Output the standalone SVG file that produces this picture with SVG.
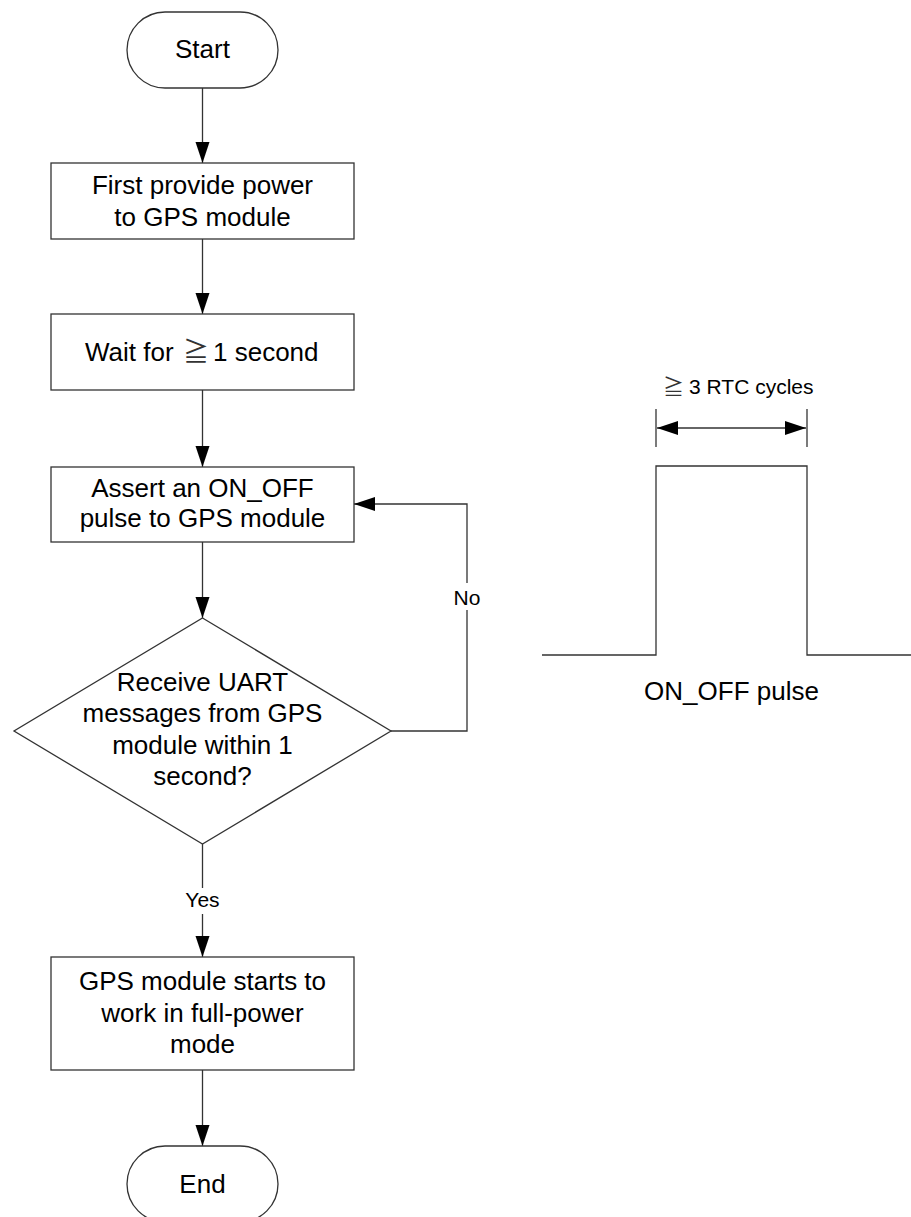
<svg xmlns="http://www.w3.org/2000/svg" width="911" height="1217" viewBox="0 0 911 1217">
<style>
.shape{fill:#fff;stroke:#333;stroke-width:1.3}
.line{fill:none;stroke:#333;stroke-width:1.3}
.t{font-family:"Liberation Sans",Arial,sans-serif;font-size:26px;fill:#000;text-anchor:middle}
.s{font-family:"Liberation Sans",Arial,sans-serif;font-size:21px;fill:#000;text-anchor:middle}
.cjk{font-family:"Noto Sans CJK SC","DejaVu Sans",sans-serif;fill:#333}
</style>
<defs>
<marker id="arr" markerUnits="userSpaceOnUse" markerWidth="22" markerHeight="15" refX="21" refY="7" orient="auto">
<path d="M0,0 L21,7 L0,14 z" fill="#000"/>
</marker>
<marker id="arrS" markerUnits="userSpaceOnUse" markerWidth="22" markerHeight="15" refX="0" refY="7" orient="auto">
<path d="M21,0 L0,7 L21,14 z" fill="#000"/>
</marker>
</defs>
<rect width="911" height="1217" fill="#fff"/>

<g id="connectors">
<line class="line" x1="202.5" y1="88" x2="202.5" y2="163" marker-end="url(#arr)"/>
<line class="line" x1="202.5" y1="239" x2="202.5" y2="314" marker-end="url(#arr)"/>
<line class="line" x1="202.5" y1="390" x2="202.5" y2="467" marker-end="url(#arr)"/>
<line class="line" x1="202.5" y1="542" x2="202.5" y2="618" marker-end="url(#arr)"/>
<line class="line" x1="202.5" y1="844" x2="202.5" y2="957" marker-end="url(#arr)"/>
<line class="line" x1="202.5" y1="1070" x2="202.5" y2="1146" marker-end="url(#arr)"/>
<polyline class="line" points="391,731 467,731 467,504 354,504" marker-end="url(#arr)"/>
<rect x="185" y="888" width="36" height="26" fill="#fff"/>
<text class="s" x="202.5" y="907">Yes</text>
<rect x="452" y="583" width="30" height="27" fill="#fff"/>
<text class="s" x="467" y="605">No</text>
</g>

<g id="start">
<rect class="shape" x="127" y="12" width="151" height="76" rx="38" ry="38"/>
<text class="t" x="202.5" y="58">Start</text>
</g>

<g id="power">
<rect class="shape" x="51" y="163" width="303" height="76"/>
<text class="t" x="202.5" y="194">First provide power</text>
<text class="t" x="202.5" y="226">to GPS module</text>
</g>

<g id="wait">
<rect class="shape" x="51" y="314" width="303" height="76"/>
<text class="t" x="85" y="361" style="text-anchor:start">Wait for<tspan class="cjk" x="183">≧</tspan><tspan x="213">1 second</tspan></text>
</g>

<g id="assert">
<rect class="shape" x="51" y="467" width="303" height="75"/>
<text class="t" x="202.5" y="497">Assert an ON_OFF</text>
<text class="t" x="202.5" y="527">pulse to GPS module</text>
</g>

<g id="decision">
<polygon class="shape" points="202.5,618 391,731 202.5,844 14,731"/>
<text class="t" x="202.5" y="690.5">Receive UART</text>
<text class="t" x="202.5" y="722">messages from GPS</text>
<text class="t" x="202.5" y="753.5">module within 1</text>
<text class="t" x="202.5" y="785">second?</text>
</g>

<g id="fullpower">
<rect class="shape" x="51" y="957" width="303" height="113"/>
<text class="t" x="202.5" y="989.5">GPS module starts to</text>
<text class="t" x="202.5" y="1021.5">work in full-power</text>
<text class="t" x="202.5" y="1052.5">mode</text>
</g>

<g id="end">
<rect class="shape" x="127" y="1146" width="151" height="76" rx="38" ry="38"/>
<text class="t" x="202.5" y="1193">End</text>
</g>

<g id="pulse">
<polyline class="line" points="542,655 656,655 656,466 807,466 807,655 911,655"/>
<line class="line" x1="656" y1="409" x2="656" y2="447"/>
<line class="line" x1="807" y1="409" x2="807" y2="447"/>
<line class="line" x1="657" y1="428" x2="806" y2="428" marker-start="url(#arrS)" marker-end="url(#arr)"/>
<text class="s" x="663" y="394" style="text-anchor:start"><tspan class="cjk">≧</tspan><tspan x="689">3 RTC cycles</tspan></text>
<text class="t" x="731.5" y="700">ON_OFF pulse</text>
</g>
</svg>
